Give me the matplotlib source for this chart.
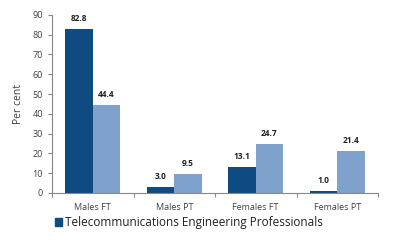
import numpy as np
import matplotlib
matplotlib.use("Agg")
import matplotlib.pyplot as plt
from matplotlib.patches import Patch

# Datos
categories = ["Males FT", "Males PT", "Females FT", "Females PT"]
telecom = [82.8, 3.0, 13.1, 1.0]
all_occupations = [44.4, 9.5, 24.7, 21.4]
legend_label = "Telecommunications Engineering Professionals"
yticks = [0, 10, 20, 30, 40, 50, 60, 70, 80, 90]

dark = "#0f4a80"
light = "#7ea2cc"
grey = "#404040"

plt.rcParams["font.family"] = ["Open Sans", "DejaVu Sans"]

fig = plt.figure(figsize=(4, 2.4), dpi=100)
ax = fig.add_axes([0.13, 0.196, 0.815, 0.742])

x = np.arange(len(categories))
w = 0.335
b1 = ax.bar(x - w / 2, telecom, w, color=dark)
b2 = ax.bar(x + w / 2, all_occupations, w, color=light)

for bars, vals in ((b1, telecom), (b2, all_occupations)):
    for r, v in zip(bars, vals):
        ax.text(r.get_x() + r.get_width() / 2, v + 3, f"{v:.1f}",
                ha="center", va="bottom", fontsize=6, fontweight="bold", color="#222222")

ax.set_xlim(-0.5, len(categories) - 0.5)
ax.set_ylim(0, 90)
ax.set_yticks(yticks)
ax.set_xticks(np.arange(len(categories) + 1) - 0.5)
ax.set_xticklabels([])
ax.set_xticks(x, minor=True)
ax.set_xticklabels(categories, minor=True)
ax.tick_params(axis="x", which="minor", length=0, labelsize=6.5, colors=grey, pad=7)
ax.tick_params(axis="x", which="major", length=3, color="#888888")
ax.tick_params(axis="y", labelsize=6.5, colors=grey, length=3, color="#888888")
ax.set_ylabel("Per cent", fontsize=7.5, color=grey, labelpad=6)

for s in ("top", "right"):
    ax.spines[s].set_visible(False)
for s in ("left", "bottom"):
    ax.spines[s].set_color("#888888")
    ax.spines[s].set_linewidth(0.8)

handle = Patch(color=dark)
fig.legend([handle], [legend_label], loc="lower left", bbox_to_anchor=(0.11, 0.0),
           frameon=False, fontsize=8.5, handlelength=0.6, handleheight=0.6,
           handletextpad=0.3, labelcolor="#222222")

fig.savefig("out.png", dpi=100)
